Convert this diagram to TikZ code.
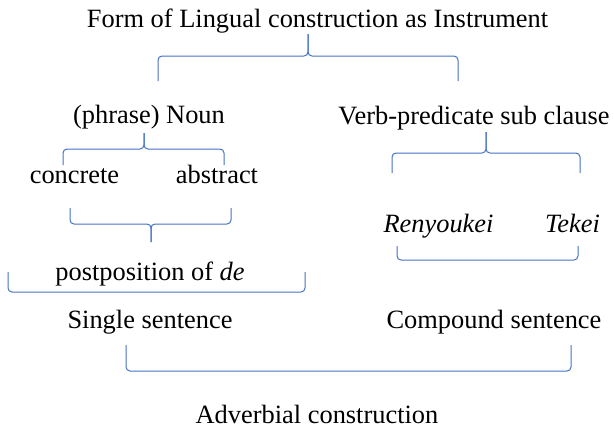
\documentclass[tikz,border=0pt]{standalone}
\usepackage{fontspec}
\setmainfont{Liberation Serif}
\definecolor{brc}{HTML}{4472C4}
\tikzset{
  lbl/.style={anchor=base, inner sep=0pt, font=\fontsize{26.4}{30}\selectfont},
  brace/.style={draw=brc, line width=1pt, rounded corners=4pt}
}
\begin{document}
\begin{tikzpicture}[x=1pt,y=-1pt]
\useasboundingbox (0,0) rectangle (614,429);
\node[lbl] (title) at (317.5,27) {Form of Lingual construction as Instrument};
\node[lbl] (noun) at (149,123) {(phrase) Noun};
\node[lbl] (verb) at (474,124) {Verb-predicate sub clause};
\node[lbl] (conc) at (74.5,183) {concrete};
\node[lbl] (abst) at (217,183) {abstract};
\node[lbl] (ren) at (438.5,232) {\itshape Renyoukei};
\node[lbl] (tek) at (572.5,232) {\itshape Tekei};
\node[lbl] (post) at (150,280) {postposition of \textit{de}};
\node[lbl] (single) at (150,328) {Single sentence};
\node[lbl] (comp) at (494,328) {Compound sentence};
\node[lbl] (adv) at (317,423) {Adverbial construction};
% top brace
\draw[brace] (158,81) -- (158,56) -- (308,56) -- (308,34);
\draw[brace] (458,81) -- (458,56) -- (308,56) -- (308,34);
% noun brace
\draw[brace] (63,165) -- (63,149) -- (144,149) -- (144,133);
\draw[brace] (224,165) -- (224,149) -- (144,149) -- (144,133);
% verb brace
\draw[brace] (392,173) -- (392,153) -- (486,153) -- (486,132);
\draw[brace] (580,173) -- (580,153) -- (486,153) -- (486,132);
% concrete/abstract lower brace
\draw[brace] (70,208) -- (70,224) -- (151,224) -- (151,242);
\draw[brace] (231,208) -- (231,224) -- (151,224) -- (151,242);
% renyoukei/tekei bracket
\draw[brace] (397,246) -- (397,260) -- (578,260) -- (578,246);
% postposition bracket
\draw[brace] (8,272) -- (8,292) -- (305,292) -- (305,272);
% bottom bracket
\draw[brace] (126,345) -- (126,371) -- (571,371) -- (571,345);
\end{tikzpicture}
\end{document}
